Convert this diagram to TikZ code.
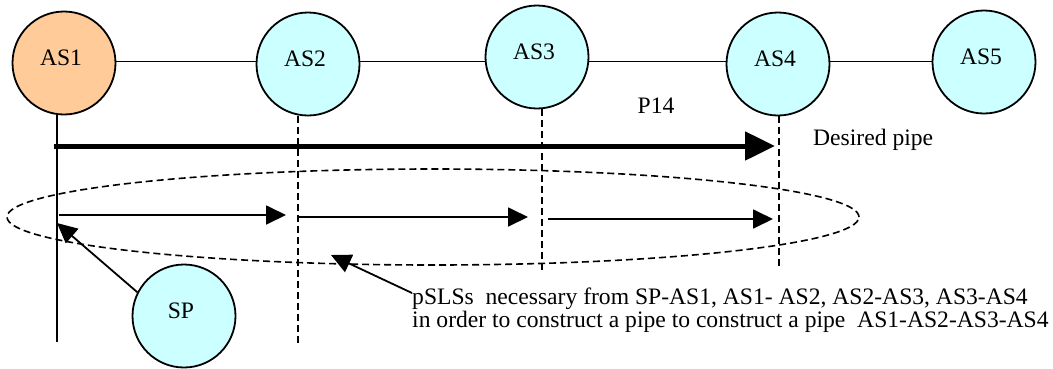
\documentclass[tikz,border=0pt]{standalone}
\usepackage{fontspec}
\setmainfont{Liberation Serif}
\usetikzlibrary{arrows.meta,shapes.geometric}
\definecolor{asorange}{RGB}{255,204,153}
\definecolor{ascyan}{RGB}{204,255,255}
\begin{document}
\begin{tikzpicture}[x=1pt,y=-1pt,
  asnode/.style={circle,draw,line width=1.8pt,fill=ascyan,minimum size=103pt,inner sep=0pt,
    label={[xshift=-3pt,yshift=5pt,font=\fontsize{23.6}{23.6}\selectfont]center:#1}},
  link/.style={line width=1.8pt},
  guide/.style={line width=1.6pt,dash pattern=on 7pt off 4pt},
  hop/.style={line width=1.8pt,-{Triangle[length=20pt,width=19pt]}},
  pointer/.style={line width=1.8pt,-{Triangle[length=20pt,width=19pt]}},
  bigpipe/.style={line width=5pt,-{Triangle[length=30pt,width=28pt]}},
  txt/.style={font=\fontsize{23.6}{18.3}\selectfont,inner sep=0pt}]
  \useasboundingbox (0,0) rectangle (1053,368);

  % autonomous systems along the top
  \node[asnode=AS1,fill=asorange] (AS1) at (64,63) {};
  \node[asnode=AS2] (AS2) at (308,64) {};
  \node[asnode=AS3] (AS3) at (537,57) {};
  \node[asnode=AS4] (AS4) at (778,64) {};
  \node[asnode=AS5] (AS5) at (984,62) {};
  \node[asnode=SP] (SP) at (184,316) {};

  % inter-AS links
  \coordinate (rail) at (0,61.5);
  \draw[link] (AS1.east |- rail) -- (AS2.west |- rail);
  \draw[link] (AS2.east |- rail) -- (AS3.west |- rail);
  \draw[link] (AS3.east |- rail) -- (AS4.west |- rail);
  \draw[link] (AS4.east |- rail) -- (AS5.west |- rail);

  % vertical timelines below each AS
  \coordinate (v1) at (57,342);
  \coordinate (v2) at (298,345);
  \coordinate (v3) at (542,270);
  \coordinate (v4) at (779,266);
  \draw[link] (AS1.south -| v1) -- (v1);
  \draw[guide] (AS2.south -| v2) -- (v2);
  \draw[guide] (AS3.south -| v3) -- (v3);
  \draw[guide] (AS4.south -| v4) -- (v4);

  % desired end-to-end pipe
  \coordinate (p0) at (54,146);
  \coordinate (p1) at (775,146);
  \draw[bigpipe] (p0) -- (p1);
  \node[txt,anchor=base] (P14) at (656,113) {P14};
  \node[txt,anchor=base west] (desired) at (813,145) {Desired pipe};

  % group of per-hop pSLSs
  \node[draw,ellipse,guide,minimum width=852pt,minimum height=96pt,inner sep=0pt] (group) at (433,217) {};
  \coordinate (h0) at (59,215);
  \coordinate (h1) at (286,215);
  \coordinate (h2) at (299,217);
  \coordinate (h3) at (528,217);
  \coordinate (h4) at (548,219);
  \coordinate (h5) at (773,219);
  \draw[hop] (h0) -- (h1);
  \draw[hop] (h2) -- (h3);
  \draw[hop] (h4) -- (h5);

  % SP attaches to AS1
  \coordinate (sptip) at (57,223);
  \draw[pointer] (SP.153) -- (sptip);

  % explanatory note
  \node[txt,anchor=north west,align=left] (note) at (412,288)
    {pSLSs\ \ necessary from SP-AS1, AS1- AS2, AS2-AS3, AS3-AS4\\
     in order to construct a pipe to construct a pipe\ \ AS1-AS2-AS3-AS4};
  \coordinate (notetip) at (331,255);
  \draw[pointer] ([yshift=-5pt]note.north west) -- (notetip);
\end{tikzpicture}
\end{document}
